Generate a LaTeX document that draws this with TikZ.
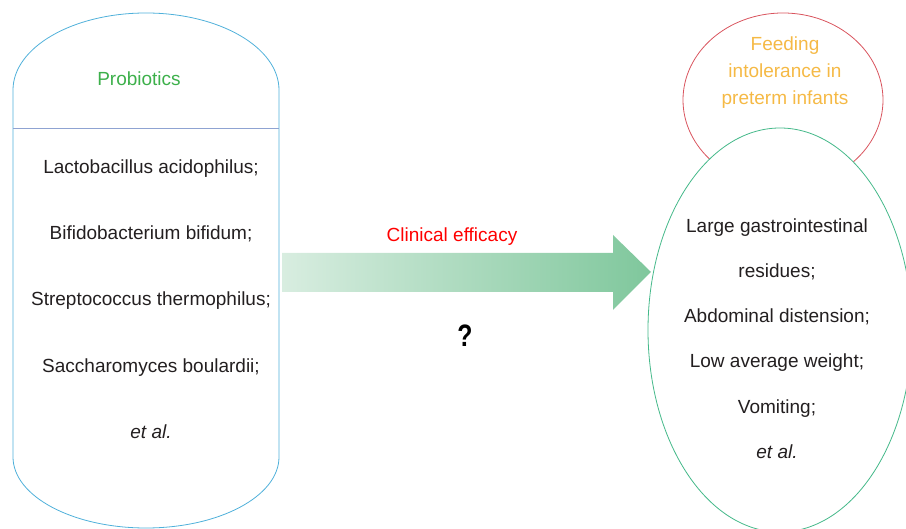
\documentclass[tikz,border=0pt]{standalone}
\usepackage{fontspec}
\setmainfont{Liberation Sans}
\usepackage{graphicx}
\definecolor{boxblue}{HTML}{4FB0DA}
\definecolor{divline}{HTML}{8FA3D2}
\definecolor{probgreen}{HTML}{3DB04B}
\definecolor{feedorange}{HTML}{F5B945}
\definecolor{redline}{HTML}{D9545E}
\definecolor{greenline}{HTML}{45B98A}
\definecolor{arrowlight}{HTML}{D8EDE0}
\definecolor{arrowdark}{HTML}{7FC79C}
\definecolor{txt}{HTML}{231F20}
\tikzset{
  body/.style={font=\fontsize{19}{22}\selectfont, text=txt, anchor=base, inner sep=0pt},
  outline/.style={line width=0.8pt}
}
\begin{document}
\begin{tikzpicture}[x=1pt,y=1pt]
\useasboundingbox (0,0) rectangle (906,529);
\clip (0,0) rectangle (906,529);
% left capsule
\draw[outline, draw=boxblue] (13,439) arc[start angle=180,end angle=0,x radius=133,y radius=77]
  -- (279,72) arc[start angle=0,end angle=-180,x radius=133,y radius=71] -- cycle;
\coordinate (dl) at (13,401);
\coordinate (dr) at (279,401);
\draw[outline, draw=divline] (dl) -- (dr);
\node[body, text=probgreen] (prob) at (139,443.5) {Probiotics};
\node[body] (l1) at (151,355.5) {Lactobacillus acidophilus;};
\node[body] (l2) at (151,289.5) {Bifidobacterium bifidum;};
\node[body] (l3) at (151,223.5) {Streptococcus thermophilus;};
\node[body] (l4) at (151,156.5) {Saccharomyces boulardii;};
\node[body] (l5) at (151,90.5) {\itshape et al.};
% arrow
\shade[left color=arrowlight, right color=arrowdark]
  (282,276) -- (613,276) -- (613,294) -- (651,257) -- (613,219) -- (613,237) -- (282,237) -- cycle;
\node[body, text=red] (ce) at (452,287.5) {Clinical efficacy};
\node[body, font=\fontsize{31}{34}\selectfont\bfseries, text=black] (q) at (465,182.5) {\scalebox{0.8}[1]{?}};
% right ellipses
\draw[outline, draw=redline] (783,429) ellipse[x radius=100,y radius=87];
\filldraw[outline, draw=greenline, fill=white] (780,199) ellipse[x radius=132,y radius=202];
\node[body, text=feedorange] (f1) at (785,478.5) {Feeding};
\node[body, text=feedorange] (f2) at (785,451.5) {intolerance in};
\node[body, text=feedorange] (f3) at (785,424.5) {preterm infants};
\node[body] (r1) at (777,296.5) {Large gastrointestinal};
\node[body] (r2) at (777,251.5) {residues;};
\node[body] (r3) at (777,206.5) {Abdominal distension;};
\node[body] (r4) at (777,161.5) {Low average weight;};
\node[body] (r5) at (777,115.5) {Vomiting;};
\node[body] (r6) at (777,70.5) {\itshape et al.};
\end{tikzpicture}
\end{document}
